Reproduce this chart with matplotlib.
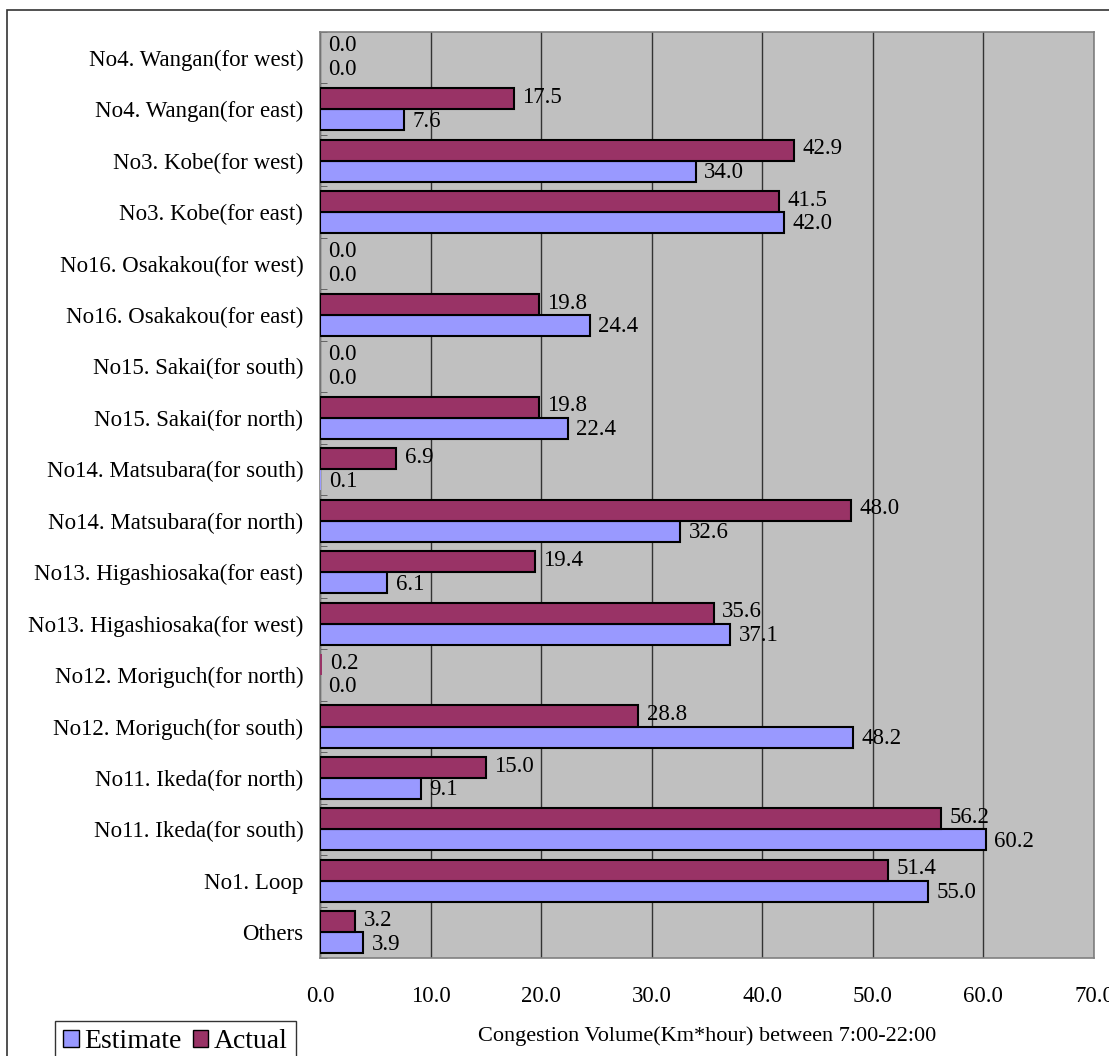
import matplotlib
matplotlib.use("Agg")
import matplotlib.pyplot as plt
from matplotlib.patches import Rectangle, Patch
import numpy as np

plt.rcParams['font.family'] = ['Liberation Serif', 'DejaVu Serif']

categories = [
    "Others", "No1. Loop", "No11. Ikeda(for south)", "No11. Ikeda(for north)",
    "No12. Moriguch(for south)", "No12. Moriguch(for north)",
    "No13. Higashiosaka(for west)", "No13. Higashiosaka(for east)",
    "No14. Matsubara(for north)", "No14. Matsubara(for south)",
    "No15. Sakai(for north)", "No15. Sakai(for south)",
    "No16. Osakakou(for east)", "No16. Osakakou(for west)",
    "No3. Kobe(for east)", "No3. Kobe(for west)",
    "No4. Wangan(for east)", "No4. Wangan(for west)",
]
estimate = [3.9, 55.0, 60.2, 9.1, 48.2, 0.0, 37.1, 6.1, 32.6, 0.1,
            22.4, 0.0, 24.4, 0.0, 42.0, 34.0, 7.6, 0.0]
actual = [3.2, 51.4, 56.2, 15.0, 28.8, 0.2, 35.6, 19.4, 48.0, 6.9,
          19.8, 0.0, 19.8, 0.0, 41.5, 42.9, 17.5, 0.0]
xticks = [0, 10, 20, 30, 40, 50, 60, 70]

W, H = 1109, 1056
fig = plt.figure(figsize=(W / 100, H / 100), dpi=100)
left, right, top, bottom = 320, 1094, 32, 958
ax = fig.add_axes([left / W, 1 - bottom / H, (right - left) / W, (bottom - top) / H])
ax.set_facecolor('#C0C0C0')

y = np.arange(len(categories))
bh = 0.41
c_est = '#9999FF'
c_act = '#993366'
lw_e = [1.5 if v >= 0.5 else 0 for v in estimate]
lw_a = [1.5 if v >= 0.5 else 0 for v in actual]
ax.barh(y - bh / 2, estimate, height=bh, color=c_est, edgecolor='black', linewidth=lw_e, zorder=3)
ax.barh(y + bh / 2, actual, height=bh, color=c_act, edgecolor='black', linewidth=lw_a, zorder=3)

fs = 16.5
for yi, v in zip(y, estimate):
    ax.annotate(f"{v:.1f}", (v, yi - bh / 2), xytext=(6, -1), textcoords='offset points',
                ha='left', va='center', fontsize=fs, zorder=4)
for yi, v in zip(y, actual):
    ax.annotate(f"{v:.1f}", (v, yi + bh / 2), xytext=(6, 1), textcoords='offset points',
                ha='left', va='center', fontsize=fs, zorder=4)

ax.set_xlim(0, 70)
ax.set_ylim(-0.5, len(categories) - 0.5)
ax.set_xticks(xticks)
ax.set_xticklabels([f"{t:.1f}" for t in xticks], fontsize=fs)
ax.set_yticks(y)
ax.set_yticklabels(categories, fontsize=fs)
ax.set_yticks(np.arange(-0.5, len(categories), 1), minor=True)
ax.tick_params(axis='y', which='major', length=0, pad=12)
ax.tick_params(axis='y', which='minor', length=5, direction='in', color='#555555')
ax.tick_params(axis='x', length=0, pad=20)
ax.xaxis.grid(True, color='#333333', linewidth=1.0, zorder=1)
ax.set_axisbelow(True)
for s in ax.spines.values():
    s.set_color('#808080')
    s.set_linewidth(1.2)
ax.set_xlabel("Congestion Volume(Km*hour) between 7:00-22:00", fontsize=16, labelpad=14)

# outer frame
fig.patches.append(Rectangle((7 / W, -0.1), 1.2, 1 - 10 / H + 0.1, transform=fig.transFigure,
                             fill=False, edgecolor='#333333', linewidth=1.2))

handles = [Patch(facecolor=c_est, edgecolor='black', label='Estimate'),
           Patch(facecolor=c_act, edgecolor='black', label='Actual')]
leg = fig.legend(handles=handles, loc='lower left', bbox_to_anchor=(55 / W, -0.006), ncol=2,
                 fontsize=20, frameon=True, fancybox=False, handlelength=0.55, handleheight=0.55,
                 handletextpad=0.2, columnspacing=0.4, borderpad=0.3, borderaxespad=0)
leg.get_frame().set_edgecolor('black')
leg.get_frame().set_linewidth(1.0)

fig.savefig("out.png", dpi=100)
